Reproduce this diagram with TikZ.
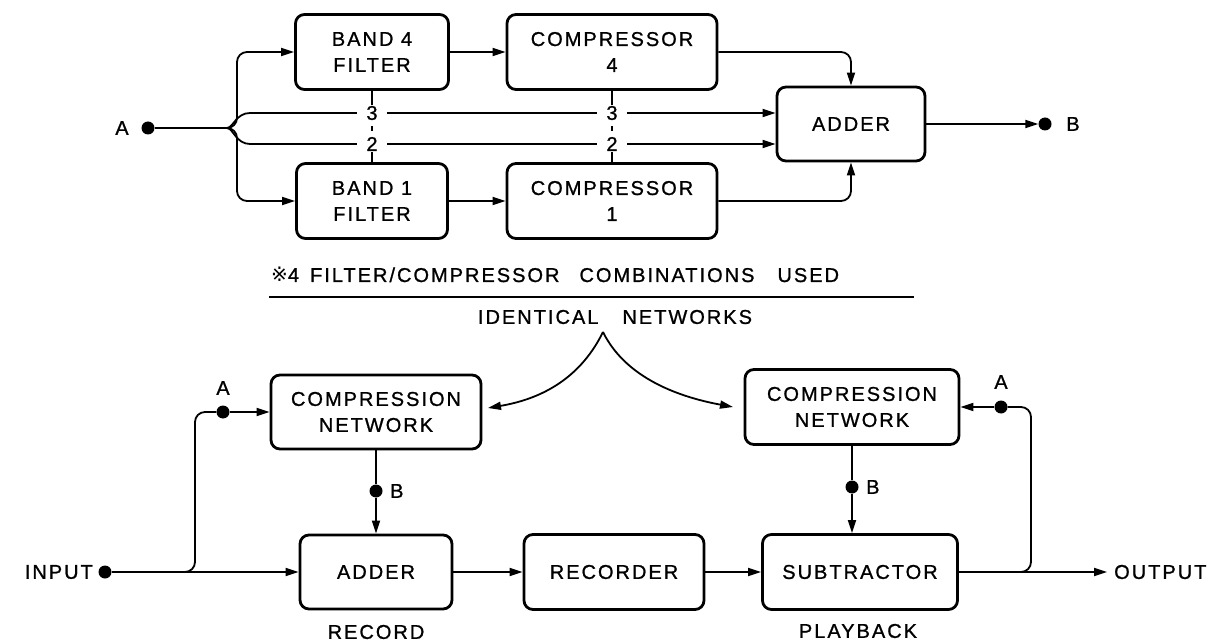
\documentclass[tikz,border=0pt]{standalone}
\usepackage{fontspec}
\setmainfont{Liberation Sans}[LetterSpace=10, FakeBold=1]
\newfontfamily\symfont{DejaVu Sans}
\usetikzlibrary{arrows.meta}
\begin{document}
\begin{tikzpicture}[x=1pt,y=-1pt,
  lbl/.style={font=\fontsize{20}{26}\selectfont, inner sep=0pt},
  blk/.style={draw, line width=2.8pt, rounded corners=9pt, align=center, inner sep=0pt, lbl},
  wire/.style={line width=1.8pt},
  arr/.style={wire, -{Triangle[length=13pt,width=8pt]}},
  dot/.style={circle, fill, inner sep=0pt, minimum size=13pt},
  digit/.style={lbl, fill=white, inner xsep=9pt, inner ysep=1pt}]
\useasboundingbox (0,0) rectangle (1221,644);

% ---------- top network ----------
\node[blk, minimum width=153pt, minimum height=75pt] (band4) at (372,52) {BAND 4\\FILTER};
\node[blk, minimum width=151pt, minimum height=75pt] (band1) at (372,201) {BAND 1\\FILTER};
\node[blk, minimum width=210pt, minimum height=75pt] (comp4) at (612,52) {COMPRESSOR\\4};
\node[blk, minimum width=210pt, minimum height=75pt] (comp1) at (612,201) {COMPRESSOR\\1};
\node[blk, minimum width=148pt, minimum height=74pt] (adder) at (851,124) {ADDER};

\node[dot] (dA) at (148,128) {};
\node[lbl] (lA) at (122,128) {A};
\coordinate (br) at (227,128);
\coordinate (y3) at (0,113);
\coordinate (y2) at (0,144);
\draw[wire] (dA) -- (br);
\draw[arr, rounded corners=10pt] (br) -| (237,52) -- (band4.west);
\draw[arr, rounded corners=10pt] (br) -| (237,201) -- (band1.west);
\draw[arr] (br) .. controls (233,128) and (236,113) .. (250,113) -- (adder.west |- y3);
\draw[arr] (br) .. controls (233,128) and (236,144) .. (250,144) -- (adder.west |- y2);
\draw[arr] (band4.east) -- (comp4.west);
\draw[arr] (band1.east) -- (comp1.west);
\draw[arr, rounded corners=10pt] (comp4.east) -| (adder.north);
\draw[arr, rounded corners=10pt] (comp1.east) -| (adder.south);
\node[dot] (dB) at (1045,124) {};
\draw[arr] (adder.east) -- (dB);
\node[lbl] (lB) at (1073,124) {B};

\node[digit] (t3a) at (372,113) {3};
\node[digit] (t2a) at (372,144) {2};
\node[digit] (t3b) at (612,113) {3};
\node[digit] (t2b) at (612,144) {2};
\draw[wire] (band4.south) -- (t3a.north);
\draw[wire, shorten >=5pt, shorten <=5pt] (t3a.south) -- (t2a.north);
\draw[wire] (t2a.south) -- (band1.north);
\draw[wire] (comp4.south) -- (t3b.north);
\draw[wire, shorten >=5pt, shorten <=5pt] (t3b.south) -- (t2b.north);
\draw[wire] (t2b.south) -- (comp1.north);

% ---------- caption ----------
\node[lbl, anchor=base west] (cap) at (271,282) {{\symfont ※}4\hspace{11pt}FILTER/COMPRESSOR\hspace{20pt}COMBINATIONS\hspace{23pt}USED};
\draw[line width=1.8pt] (269,297) -- (914,297);
\node[lbl] (ident) at (615,317) {IDENTICAL\hspace{24pt}NETWORKS};
\coordinate (apex) at (603,332);
\coordinate (tipL) at (488,408);
\coordinate (tipR) at (733,407);
\draw[arr] (apex) .. controls (578,383) and (535,400) .. (tipL);
\draw[arr] (apex) .. controls (628,383) and (690,399) .. (tipR);

% ---------- bottom system ----------
\node[blk, minimum width=210pt, minimum height=74pt] (cnL) at (376,412) {COMPRESSION\\NETWORK};
\node[blk, minimum width=214pt, minimum height=75pt] (cnR) at (852,407) {COMPRESSION\\NETWORK};
\node[blk, minimum width=152pt, minimum height=74pt] (adderB) at (376,572) {ADDER};
\node[blk, minimum width=180pt, minimum height=75pt] (recorder) at (614,572) {RECORDER};
\node[blk, minimum width=195pt, minimum height=75pt] (sub) at (860,572) {SUBTRACTOR};

\node[dot] (dIn) at (105,572) {};
\node[lbl, anchor=east] (lIn) at (93,572) {INPUT};
\draw[arr] (dIn) -- (adderB.west);
\coordinate (brL) at (185,572);
\node[dot] (dAL) at (223,412) {};
\node[lbl] (lAL) at (223,388) {A};
\draw[wire, rounded corners=10pt] (brL) -| (195,412) -- (dAL);
\draw[arr] (dAL) -- (cnL.west);
\node[dot] (dBL) at (376,491) {};
\node[lbl, anchor=west] (lBL) at (390,491) {B};
\draw[wire] (cnL.south) -- (dBL);
\draw[arr] (dBL) -- (adderB.north);

\draw[arr] (adderB.east) -- (recorder.west);
\draw[arr] (recorder.east) -- (sub.west);
\coordinate (outTip) at (1107,572);
\draw[arr] (sub.east) -- (outTip);
\node[lbl, anchor=west] (lOut) at (1114,572) {OUTPUT};
\coordinate (brR) at (1021,572);
\node[dot] (dAR) at (1001,407) {};
\node[lbl] (lAR) at (1001,382) {A};
\draw[wire, rounded corners=10pt] (brR) -| (1031,407) -- (dAR);
\draw[arr] (dAR) -- (cnR.east);
\node[dot] (dBR) at (852,487) {};
\node[lbl, anchor=west] (lBR) at (866,487) {B};
\draw[wire] (cnR.south) -- (dBR);
\draw[arr] (dBR) -- (dBR |- sub.north);

\node[lbl] (rec) at (376,632) {RECORD};
\node[lbl] (play) at (858,631) {PLAYBACK};
\end{tikzpicture}
\end{document}
